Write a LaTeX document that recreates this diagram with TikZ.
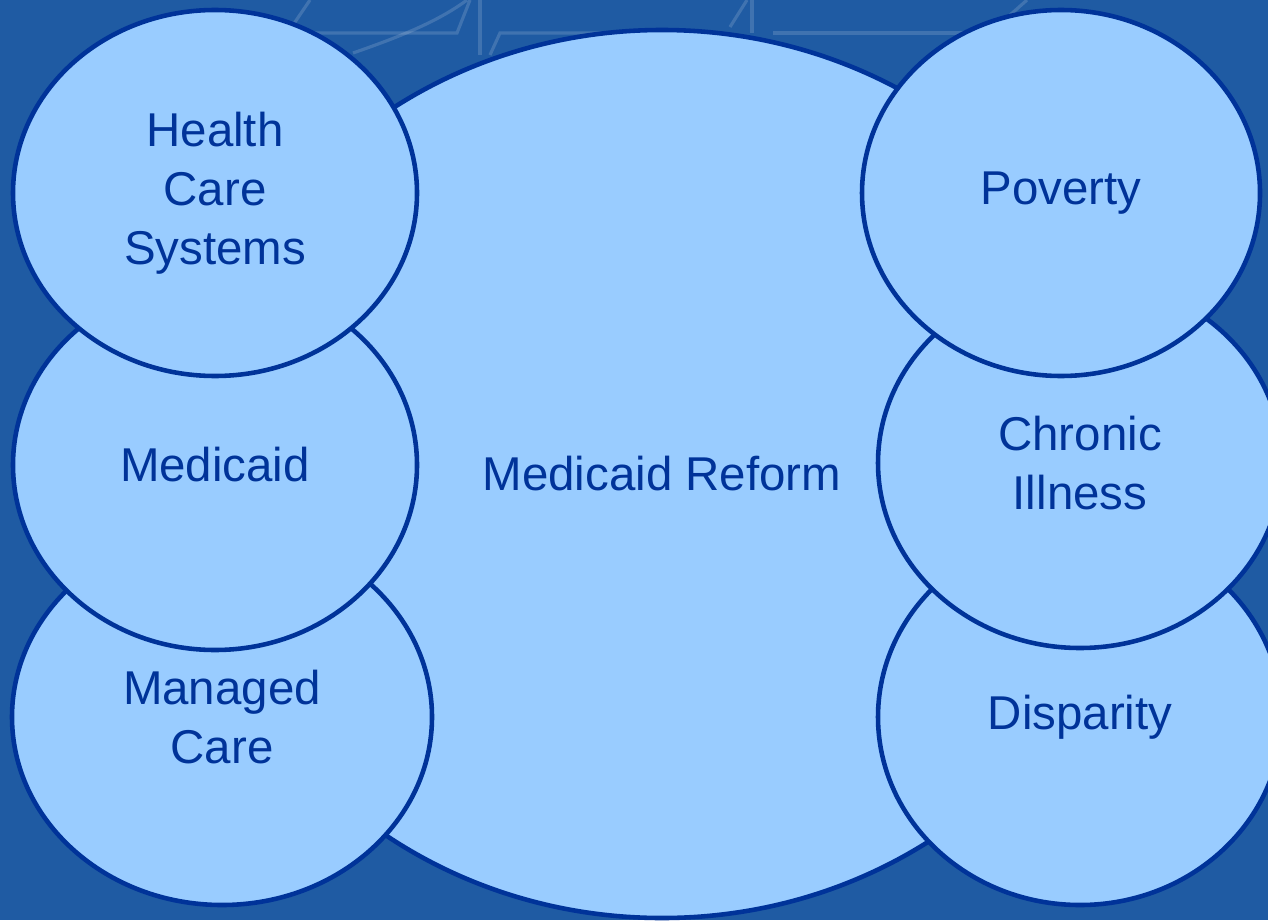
\documentclass[tikz,border=0pt]{standalone}
\usepackage{fontspec}
\setmainfont{Liberation Sans}
\usetikzlibrary{shapes.geometric}

\definecolor{slidebg}{HTML}{1F5BA3}
\definecolor{bubblefill}{HTML}{99CCFF}
\definecolor{bubbleline}{HTML}{003399}

\begin{document}
\begin{tikzpicture}[thick,
      main node/.style={ellipse,draw=bubbleline,fill=bubblefill,text=bubbleline,
        line width=1.3pt,inner sep=0pt,align=center,
        font=\fontsize{13.5pt}{16.8pt}\selectfont},
      mark line/.style={draw=white,opacity=0.15,line width=0.9pt}]
 \useasboundingbox (0,0) rectangle (12.68,9.2);
 \clip (0,0) rectangle (12.68,9.2);
 \fill[slidebg] (0,0) rectangle (12.68,9.2);

 % faint watermark at the top
 \draw[mark line] (3.10,9.2) -- (2.93,8.95);
 \draw[mark line] (3.53,8.67) .. controls (4.05,8.85) and (4.40,9.0) .. (4.67,9.2);
 \draw[mark line] (3.13,8.87) -- (4.57,8.87) -- (4.70,9.2);
 \draw[mark line] (4.80,9.2) -- (4.80,8.65);
 \draw[mark line] (4.90,8.65) -- (5.00,8.87) -- (7.10,8.87);
 \draw[mark line] (7.30,8.93) -- (7.47,9.2);
 \draw[mark line] (7.52,9.2) -- (7.52,8.87);
 \draw[mark line] (7.73,8.87) -- (9.67,8.87);
 \draw[mark line] (10.10,9.05) -- (10.27,9.2);

 \node[main node, minimum width=9.5cm, minimum height=8.88cm] (mr) at (6.62,4.46) {Medicaid Reform};

 \node[main node, minimum width=4.2cm, minimum height=3.76cm] (mc) at (2.22,2.03) {Managed\\Care};
 \node[main node, minimum width=4.04cm, minimum height=3.7cm] (med) at (2.15,4.55) {Medicaid};
 \node[main node, minimum width=4.04cm, minimum height=3.66cm] (hcs) at (2.15,7.27) {Health\\Care\\Systems};

 \node[main node, minimum width=4.04cm, minimum height=3.76cm] (dis) at (10.80,2.03) {Disparity};
 \node[main node, minimum width=4.04cm, minimum height=3.7cm] (chr) at (10.80,4.57) {Chronic\\Illness};
 \node[main node, minimum width=3.98cm, minimum height=3.66cm] (pov) at (10.61,7.27) {Poverty};
\end{tikzpicture}
\end{document}
